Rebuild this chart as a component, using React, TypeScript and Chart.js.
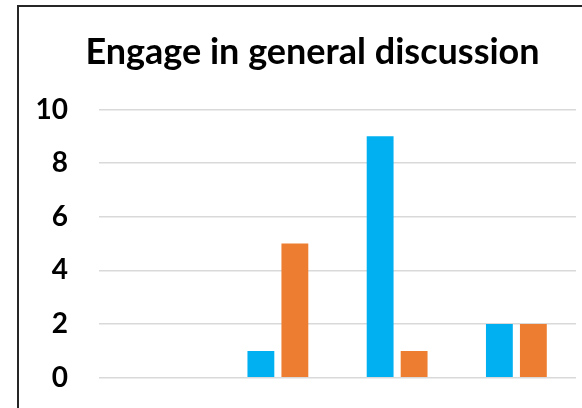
import React, { useEffect, useRef } from "react";
import { Chart, registerables } from "chart.js";

Chart.register(...registerables);

const categories = ["Category 1", "Category 2", "Category 3", "Category 4"];
const seriesBlue = [0, 1, 9, 2];
const seriesOrange = [0, 5, 1, 2];
const yMin = 0;
const yMax = 10;
const yStep = 2;
const titleText = "Engage in general discussion";

// Let the y tick labels draw into the left margin instead of being clipped.
const widenLabelArea = {
  id: "widenLabelArea",
  afterLayout(chart: any) {
    const y = chart.scales.y;
    if (y) y.left = 0;
  },
};

export default function App() {
  const ref = useRef<HTMLCanvasElement | null>(null);

  useEffect(() => {
    document.body.style.margin = "0";
    const ctx = ref.current!;
    const chart = new Chart(ctx, {
      type: "bar",
      data: {
        labels: categories,
        datasets: [
          {
            label: "Series 1",
            data: seriesBlue,
            backgroundColor: "#00B0F0",
            barPercentage: 0.79,
            categoryPercentage: 0.57,
          },
          {
            label: "Series 2",
            data: seriesOrange,
            backgroundColor: "#ED7D31",
            barPercentage: 0.79,
            categoryPercentage: 0.57,
          },
        ],
      },
      plugins: [widenLabelArea],
      options: {
        animation: false,
        responsive: false,
        maintainAspectRatio: false,
        layout: { padding: { left: 49, right: 6, top: 10, bottom: 30.3 } },
        plugins: {
          legend: { display: false },
          tooltip: { enabled: false },
          title: {
            display: true,
            text: titleText,
            color: "#000000",
            font: { family: "Lato", size: 36, weight: "bold" },
            padding: { top: 20.4, bottom: 35.9 },
          },
        },
        scales: {
          x: { display: false },
          y: {
            min: yMin,
            max: yMax,
            afterFit: (scale: any) => {
              scale.width = 50;
              scale.paddingTop = 0;
              scale.paddingBottom = 0;
            },
            ticks: {
              stepSize: yStep,
              padding: 31,
              color: "#000000",
              font: { family: "Lato", size: 28, weight: "bold" },
            },
            grid: { color: "#D9D9D9", lineWidth: 1.5, drawTicks: false },
            border: { display: false },
          },
        },
      },
    });
    return () => chart.destroy();
  }, []);

  return (
    <div
      style={{
        position: "fixed",
        left: 0,
        top: 0,
        width: 582,
        height: 408,
        overflow: "hidden",
        background: "#ffffff",
      }}
    >
      <div
        style={{
          position: "absolute",
          left: 17,
          top: 5,
          width: 700,
          height: 600,
          borderLeft: "2px solid #262626",
          borderTop: "2px solid #262626",
        }}
      />
      <canvas
        ref={ref}
        width={582}
        height={408}
        style={{ position: "absolute", left: 0, top: 0, width: 582, height: 408 }}
      />
    </div>
  );
}
